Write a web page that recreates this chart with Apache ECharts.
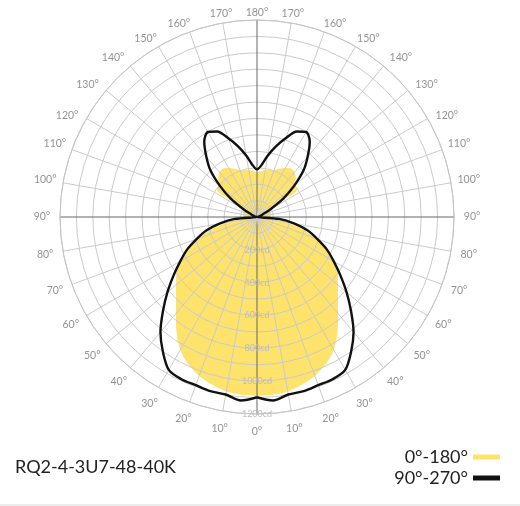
<!DOCTYPE html>
<html>
<head>
<meta charset="utf-8">
<script src="https://cdn.jsdelivr.net/npm/echarts@6/dist/echarts.min.js"></script>
<style>
html, body { margin: 0; padding: 0; background: #fff; }
#chart { width: 520px; height: 506px; }
</style>
</head>
<body>
<div id="chart"></div>
<script>
// gamma angles (deg from nadir), step 5
var gammas = [0,5,10,15,20,25,30,35,40,45,50,55,60,65,70,75,80,85,90,
  95,100,105,110,115,120,125,130,135,140,145,150,155,160,165,170,175,180];
// intensity in cd, plane C0-C180
var plane0180 = [1090,1087,1080,1057,1030,990,935,855,768,698,644,598,535,455,375,285,170,85,80,
  85,90,90,90,90,95,300,300,335,355,360,345,325,305,295,290,280,272];
// intensity in cd, plane C90-C270
var plane90270 = [1098,1122,1098,1098,1090,1090,1075,1000,915,810,712,620,540,470,390,320,232,135,0,
  5,10,15,20,40,95,195,295,400,480,560,598,575,510,445,380,318,290];
var ringLabels = [200, 400, 600, 800, 1000, 1200];
var seriesNames = ['0°-180°', '90°-270°'];
var title = 'RQ2-4-3U7-48-40K';

// left half = gamma as is, right half mirrored to 360 - gamma
function toPolar(values) {
  var pts = [];
  for (var i = 0; i < gammas.length; i++) pts.push([values[i], gammas[i]]);
  for (var j = gammas.length - 1; j >= 0; j--) pts.push([values[j], 360 - gammas[j]]);
  return pts;
}

var lineColors = [];
for (var a = 0; a < 360; a += 10) lineColors.push(a % 90 === 0 ? '#666' : '#cacaca');

// angle labels sit just outside the circle, centred on their spoke
// (a bit closer to it near the top, and nudged down a little in the upper half)
function labelRadius(g) {
  if (g >= 180) return 1245;
  if (g >= 170) return 1258;
  if (g >= 160) return 1270;
  if (g >= 150) return 1280;
  return 1310;
}
var angleLabels = [];
for (var t = 0; t < 360; t += 10) {
  var g = t <= 180 ? t : 360 - t;
  var nudge = (g >= 120 && g <= 160) ? 2 : 0;
  var at = t <= 180 ? t - nudge : t + nudge;
  angleLabels.push({ value: [labelRadius(g), at], name: g + '°' });
}

var chart = echarts.init(document.getElementById('chart'));
chart.setOption({
  animation: false,
  title: {
    text: title,
    left: 10,
    top: 453,
    textStyle: { fontFamily: 'Lato', fontSize: 18, fontWeight: 'normal', color: '#222' }
  },
  legend: {
    data: seriesNames,
    orient: 'vertical',
    right: 15,
    top: 443,
    align: 'right',
    icon: 'rect',
    itemWidth: 27,
    itemHeight: 5,
    itemGap: 3,
    textStyle: { fontFamily: 'Lato', fontSize: 18, color: '#222', width: 72 }
  },
  polar: {
    center: [257, 217],
    radius: 197
  },
  angleAxis: {
    type: 'value',
    min: 0,
    max: 360,
    interval: 10,
    startAngle: -90,
    clockwise: true,
    z: 3,
    axisLine: { lineStyle: { color: '#c4c4c4', width: 1 } },
    axisTick: { show: false },
    axisLabel: { show: false },
    splitLine: { lineStyle: { color: lineColors, width: 1 } }
  },
  radiusAxis: {
    type: 'value',
    min: 0,
    max: 1200,
    interval: 100,
    z: 3,
    axisLine: { show: false },
    axisTick: { show: false },
    splitLine: { lineStyle: { color: '#cacaca', width: 1 } },
    axisLabel: {
      margin: 0,
      align: 'center',
      verticalAlign: 'middle',
      fontFamily: 'Lato',
      fontSize: 9,
      color: '#bdbdbd',
      formatter: function (v) {
        return ringLabels.indexOf(v) >= 0 ? v + 'cd' : '';
      }
    }
  },
  series: [
    {
      name: seriesNames[0],
      type: 'line',
      coordinateSystem: 'polar',
      data: toPolar(plane0180),
      showSymbol: false,
      smooth: 0.3,
      z: 1,
      itemStyle: { color: '#fde26c' },
      lineStyle: { width: 0, color: '#fde26c' },
      areaStyle: { color: '#fde26c', opacity: 1 }
    },
    {
      name: seriesNames[1],
      type: 'line',
      coordinateSystem: 'polar',
      data: toPolar(plane90270),
      showSymbol: false,
      smooth: 0.3,
      z: 5,
      itemStyle: { color: '#111' },
      lineStyle: { width: 2.4, color: '#111' }
    },
    {
      name: 'angles',
      type: 'scatter',
      coordinateSystem: 'polar',
      clip: false,
      silent: true,
      symbolSize: 0,
      data: angleLabels,
      label: {
        show: true,
        position: 'inside',
        formatter: '{b}',
        fontFamily: 'Lato',
        fontSize: 10.5,
        color: '#777'
      }
    }
  ],
  graphic: [
    {
      type: 'rect',
      shape: { x: 0, y: 504, width: 520, height: 2 },
      style: { fill: '#ececec' }
    }
  ]
});
</script>
</body>
</html>
